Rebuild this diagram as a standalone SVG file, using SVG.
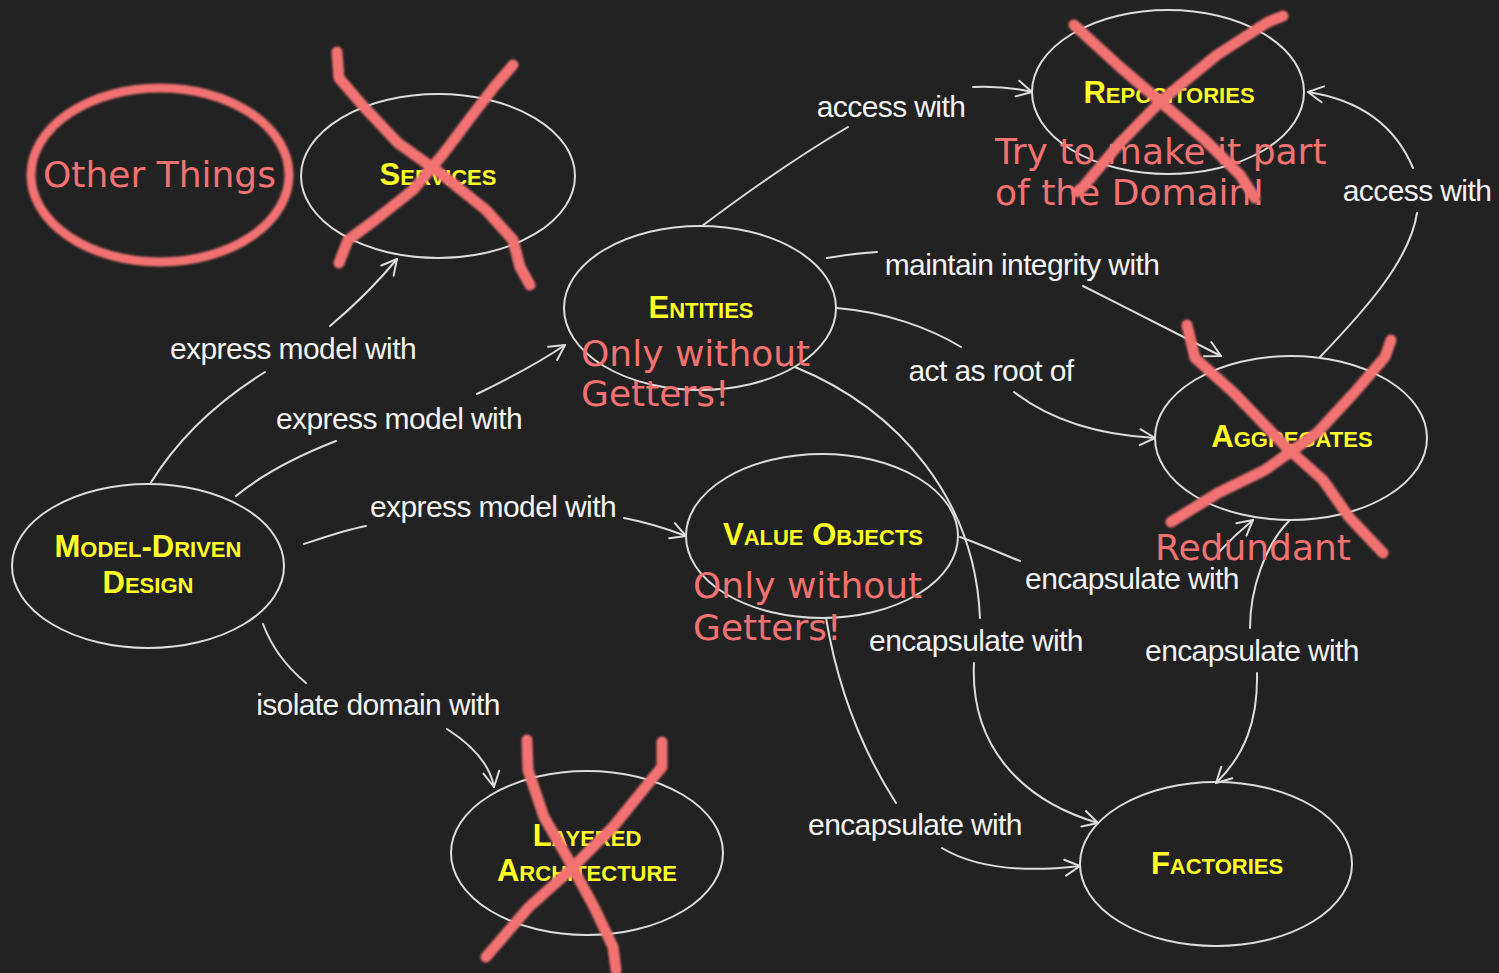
<svg xmlns="http://www.w3.org/2000/svg" width="1499" height="973" viewBox="0 0 1499 973">
<style>
.node{fill:none;stroke:#dcdcdc;stroke-width:2}
.nl{font-family:"Liberation Sans",Arial,sans-serif;font-weight:bold;font-variant:small-caps;font-size:31px;fill:#ffff22;text-anchor:middle;stroke:#1a1a55;stroke-width:0.6;paint-order:stroke}
.lbl{font-family:"Liberation Sans",Arial,sans-serif;font-size:30px;letter-spacing:-0.6px;fill:#f2f2f2;text-anchor:middle}
.edge{fill:none;stroke:#dcdcdc;stroke-width:2;stroke-linecap:round}
.pink{font-family:"DejaVu Sans",Verdana,sans-serif;font-size:36px;fill:#f27272}
.x{fill:none;stroke:#f27272;stroke-width:11;stroke-linecap:round;stroke-linejoin:round}
</style>
<defs>
<marker id="arr" markerUnits="userSpaceOnUse" markerWidth="30" markerHeight="30" refX="0" refY="0" viewBox="-20 -15 30 30" orient="auto" overflow="visible">
<path d="M-15,-8 L0,0 L-15,8" fill="none" stroke="#dcdcdc" stroke-width="2" stroke-linecap="round" stroke-linejoin="round"/>
</marker>
<filter id="soft" x="-10%" y="-10%" width="120%" height="120%"><feGaussianBlur stdDeviation="0.9"/></filter>
</defs>
<rect x="0" y="0" width="1499" height="973" fill="#222222"/>

<g id="connectors">
<path class="edge" d="M150,484 C180,435 220,400 265,372"/>
<path class="edge" marker-end="url(#arr)" d="M330,326 C355,305 378,282 397,259"/>
<path class="edge" d="M236,496 C265,472 300,455 336,441"/>
<path class="edge" marker-end="url(#arr)" d="M477,394 C510,378 540,362 565,345"/>
<path class="edge" d="M304,544 C325,537 345,530 366,526"/>
<path class="edge" marker-end="url(#arr)" d="M624,518 C645,522 665,528 686,536"/>
<path class="edge" d="M263,624 C272,648 288,668 306,683"/>
<path class="edge" marker-end="url(#arr)" d="M447,729 C472,745 490,765 494,787"/>
<path class="edge" d="M702,226 C750,190 800,155 848,127"/>
<path class="edge" marker-end="url(#arr)" d="M973,87 C995,86 1015,88 1032,92"/>
<path class="edge" d="M1320,357 C1365,310 1410,260 1417,213"/>
<path class="edge" marker-end="url(#arr)" d="M1413,168 C1395,125 1360,100 1308,92"/>
<path class="edge" d="M827,258 C845,255 860,253 877,252"/>
<path class="edge" marker-end="url(#arr)" d="M1083,286 C1130,310 1180,335 1221,356"/>
<path class="edge" d="M837,308 C885,312 930,328 961,347"/>
<path class="edge" marker-end="url(#arr)" d="M1014,392 C1050,420 1100,435 1155,438"/>
<path class="edge" d="M795,367 C900,410 975,500 980,618"/>
<path class="edge" marker-end="url(#arr)" d="M974,663 C970,745 1020,800 1098,823"/>
<path class="edge" d="M826,618 C838,690 862,750 896,803"/>
<path class="edge" marker-end="url(#arr)" d="M942,848 C975,868 1020,873 1080,866"/>
<path class="edge" d="M1289,521 C1265,545 1250,590 1250,628"/>
<path class="edge" marker-end="url(#arr)" d="M1257,673 C1258,720 1245,755 1216,783"/>
<path class="edge" d="M960,537 C982,545 1000,553 1020,561"/>
<path class="edge" marker-end="url(#arr)" d="M1218,553 C1230,540 1242,529 1253,520"/>

<text class="lbl" x="293" y="359">express model with</text>
<text class="lbl" x="399" y="429">express model with</text>
<text class="lbl" x="493" y="517">express model with</text>
<text class="lbl" x="891" y="117">access with</text>
<text class="lbl" x="1417" y="201">access with</text>
<text class="lbl" x="1022" y="275">maintain integrity with</text>
<text class="lbl" x="991" y="381">act as root of</text>
<text class="lbl" x="1132" y="589">encapsulate with</text>
<text class="lbl" x="976" y="651">encapsulate with</text>
<text class="lbl" x="1252" y="661">encapsulate with</text>
<text class="lbl" x="915" y="835">encapsulate with</text>
<text class="lbl" x="378" y="715">isolate domain with</text>
</g>

<g id="services">
<ellipse class="node" cx="438" cy="176" rx="137" ry="82"/>
<text class="nl" x="438" y="185">Services</text>
</g>
<g id="repositories">
<ellipse class="node" cx="1168" cy="92" rx="136" ry="82"/>
<text class="nl" x="1169" y="103">Repositories</text>
</g>
<g id="entities">
<ellipse class="node" cx="700" cy="308" rx="136" ry="82"/>
<text class="nl" x="701" y="318">Entities</text>
</g>
<g id="aggregates">
<ellipse class="node" cx="1291" cy="438" rx="136" ry="82"/>
<text class="nl" x="1292" y="447">Aggregates</text>
</g>
<g id="model-driven-design">
<ellipse class="node" cx="148" cy="566" rx="136" ry="82"/>
<text class="nl" x="148" y="557">Model-Driven</text>
<text class="nl" x="148" y="593">Design</text>
</g>
<g id="value-objects">
<ellipse class="node" cx="822" cy="536" rx="136" ry="82"/>
<text class="nl" x="823" y="545">Value Objects</text>
</g>
<g id="layered-architecture">
<ellipse class="node" cx="587" cy="853" rx="136" ry="82"/>
<text class="nl" x="587" y="846">Layered</text>
<text class="nl" x="587" y="881">Architecture</text>
</g>
<g id="factories">
<ellipse class="node" cx="1216" cy="864" rx="136" ry="82"/>
<text class="nl" x="1217" y="874">Factories</text>
</g>

<g id="annotations">
<g filter="url(#soft)">
<ellipse cx="160" cy="175" rx="129" ry="87" fill="none" stroke="#f27272" stroke-width="9"/>
<polyline class="x" points="337,52 339,78 364,107 398,143 440,173 486,210 513,240 520,267 530,285"/>
<polyline class="x" points="513,65 494,87 471,117 444,153 413,190 375,220 348,240 339,263"/>
<polyline class="x" points="1074,25 1120,67 1162,103 1205,140 1240,175 1255,198"/>
<polyline class="x" points="1283,16 1268,22 1217,55 1162,100 1120,143 1083,187 1077,192"/>
<polyline class="x" points="1187,325 1195,358 1234,393 1286,447 1323,480 1349,517 1383,553"/>
<polyline class="x" points="1391,340 1385,357 1354,393 1317,433 1265,470 1218,493 1171,522"/>
<polyline class="x" points="527,740 528,770 544,817 567,857 594,907 613,947 616,970"/>
<polyline class="x" points="662,742 662,767 643,790 613,827 567,873 529,907 486,957"/>
</g>
<text class="pink" x="43" y="187">Other Things</text>
<text class="pink" x="581" y="366">Only without</text>
<text class="pink" x="581" y="406">Getters!</text>
<text class="pink" x="995" y="164">Try to make it part</text>
<text class="pink" x="995" y="205">of the Domain!</text>
<text class="pink" x="693" y="598">Only without</text>
<text class="pink" x="693" y="640">Getters!</text>
<text class="pink" x="1155" y="560">Redundant</text>
</g>
</svg>
